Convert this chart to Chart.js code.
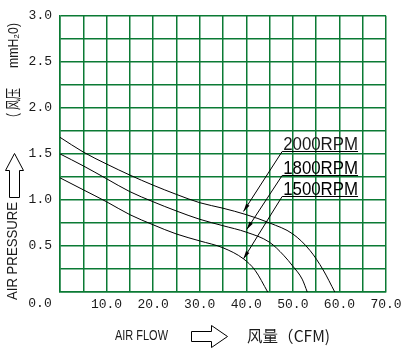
<!DOCTYPE html>
<html>
<head>
<meta charset="utf-8">
<script src="https://cdn.jsdelivr.net/npm/chart.js@4/dist/chart.umd.min.js"></script>
<style>
  body { margin: 0; background: #fff; }
</style>
</head>
<body>
<canvas id="chart" width="407" height="353"></canvas>
<script>
// curves: air flow (CFM) / pressure (mmH2O)
const flow2000 = [0, 5, 10, 15, 20, 25, 30, 35, 40, 45, 50, 53.7, 56.5, 59];
const pres2000 = [1.68, 1.52, 1.39, 1.27, 1.16, 1.06, 0.97, 0.91, 0.84, 0.75, 0.63, 0.45, 0.24, 0];

const flow1800 = [0, 5, 10, 15, 20, 25, 30, 35, 40, 45, 48, 50, 52, 53.1];
const pres1800 = [1.50, 1.37, 1.23, 1.09, 0.98, 0.88, 0.79, 0.72, 0.65, 0.54, 0.40, 0.28, 0.14, 0];

const flow1500 = [0, 5, 10, 15, 20, 25, 30, 35, 39.4, 41.9, 44.6];
const pres1500 = [1.24, 1.11, 0.98, 0.84, 0.73, 0.63, 0.555, 0.48, 0.36, 0.235, 0];

const rpmLabels = ['2000RPM', '1800RPM', '1500RPM'];

const GRID = '#0b7a34';
const TEXT = '#1a1a1a';
const tickFont = { family: 'Liberation Mono', size: 13 };

function pts(xs, ys) {
	return xs.map((v, i) => ({ x: v, y: ys[i] }));
}

function line(data) {
	return {
		data: data,
		borderColor: '#000',
		borderWidth: 1,
		pointRadius: 0,
		fill: false,
		cubicInterpolationMode: 'monotone'
	};
}

// draw text squeezed/stretched to a given width
function fitText(ctx, text, x, y, width) {
	const w = ctx.measureText(text).width;
	ctx.save();
	ctx.translate(x, y);
	ctx.scale(width / w, 1);
	ctx.textAlign = 'left';
	ctx.fillText(text, 0, 0);
	ctx.restore();
}

// label callouts, in data units
const callout = {
	left: 47.7, right: 64,
	level: [1.527, 1.27, 1.046],
	tipX: [39.4, 40.1, 39.4],
	tipY: [0.875, 0.68, 0.36]
};

const decor = {
	id: 'decor',
	afterDraw(chart) {
		const { ctx, chartArea: a, scales: { x, y } } = chart;
		ctx.save();
		ctx.fillStyle = TEXT;
		ctx.strokeStyle = '#000';
		ctx.lineWidth = 1;
		ctx.textBaseline = 'middle';

		// shared origin label
		ctx.font = '13px "Liberation Mono"';
		ctx.textAlign = 'center';
		ctx.fillText('0.0', a.left - 20, a.bottom + 12);

		// rpm callouts
		ctx.font = '19px "Liberation Sans"';
		ctx.textBaseline = 'alphabetic';
		const lx = x.getPixelForValue(callout.left);
		const rx = x.getPixelForValue(callout.right);
		rpmLabels.forEach((t, i) => {
			const ly = Math.round(y.getPixelForValue(callout.level[i])) + 0.5;
			fitText(ctx, t, lx + 1, ly - 2, rx - lx - 1);
			ctx.beginPath();
			ctx.moveTo(lx, ly);
			ctx.lineTo(rx, ly);
			ctx.stroke();
			const tx = x.getPixelForValue(callout.tipX[i]);
			const ty = y.getPixelForValue(callout.tipY[i]);
			ctx.beginPath();
			ctx.moveTo(lx, ly);
			ctx.lineTo(tx, ty);
			ctx.stroke();
			const ang = Math.atan2(ty - ly, tx - lx);
			ctx.beginPath();
			ctx.moveTo(tx, ty);
			ctx.lineTo(tx - 8 * Math.cos(ang) + 2 * Math.sin(ang), ty - 8 * Math.sin(ang) - 2 * Math.cos(ang));
			ctx.lineTo(tx - 8 * Math.cos(ang) - 2 * Math.sin(ang), ty - 8 * Math.sin(ang) + 2 * Math.cos(ang));
			ctx.closePath();
			ctx.fillStyle = '#000';
			ctx.fill();
		});

		// y axis title, rotated
		ctx.fillStyle = TEXT;
		ctx.textBaseline = 'middle';
		ctx.save();
		ctx.translate(13, 300);
		ctx.rotate(-Math.PI / 2);
		ctx.font = '14px "Liberation Sans"';
		fitText(ctx, 'AIR PRESSURE', 0, 0, 98);
		ctx.restore();

		ctx.save();
		ctx.translate(13, 124);
		ctx.rotate(-Math.PI / 2);
		ctx.font = '16px "Noto Sans CJK SC"';
		fitText(ctx, '（ 风压', 0, 0, 36);
		ctx.font = '14px "Liberation Sans"';
		fitText(ctx, 'mmH₂0)', 56, 1, 45);
		ctx.restore();

		// up arrow
		ctx.beginPath();
		ctx.moveTo(14.5, 153.5);
		ctx.lineTo(23.5, 170.5);
		ctx.lineTo(19.5, 170.5);
		ctx.lineTo(19.5, 197.5);
		ctx.lineTo(9.5, 197.5);
		ctx.lineTo(9.5, 170.5);
		ctx.lineTo(5.5, 170.5);
		ctx.closePath();
		ctx.stroke();

		// x axis title
		ctx.font = '14px "Liberation Sans"';
		fitText(ctx, 'AIR FLOW', 115, 336, 53);
		ctx.beginPath();
		ctx.moveTo(191.5, 331.5);
		ctx.lineTo(211.5, 331.5);
		ctx.lineTo(211.5, 325.5);
		ctx.lineTo(227.5, 336.5);
		ctx.lineTo(211.5, 347.5);
		ctx.lineTo(211.5, 341.5);
		ctx.lineTo(191.5, 341.5);
		ctx.closePath();
		ctx.stroke();
		ctx.font = '16px "Noto Sans CJK SC"';
		fitText(ctx, '风量（CFM)', 247, 336, 83);

		ctx.restore();
	}
};

new Chart(document.getElementById('chart'), {
	type: 'line',
	data: {
		datasets: [
			line(pts(flow2000, pres2000)),
			line(pts(flow1800, pres1800)),
			line(pts(flow1500, pres1500))
		]
	},
	options: {
		responsive: false,
		animation: false,
		layout: { padding: { top: 11, right: 21, left: 0, bottom: 0 } },
		plugins: { legend: { display: false }, tooltip: { enabled: false } },
		scales: {
			x: {
				type: 'linear',
				min: 0, max: 70,
				afterFit(s) { s.height = 61; },
				grid: { color: GRID, lineWidth: 1.5, drawTicks: false },
				border: { color: GRID, width: 1.5 },
				ticks: {
					stepSize: 5, autoSkip: false, maxRotation: 0, padding: 5,
					color: TEXT, font: tickFont,
					callback: (v) => (v % 10 === 0 && v !== 0) ? v.toFixed(1) : ''
				}
			},
			y: {
				min: 0, max: 3,
				afterFit(s) { s.width = 60; },
				grid: { color: GRID, lineWidth: 1.5, drawTicks: false },
				border: { color: GRID, width: 1.5 },
				ticks: {
					stepSize: 0.25, autoSkip: false, padding: 8,
					color: TEXT, font: tickFont,
					callback: (v) => (Math.round(v * 4) % 2 === 0 && v > 0) ? v.toFixed(1) : ''
				}
			}
		}
	},
	plugins: [decor]
});
</script>
</body>
</html>
